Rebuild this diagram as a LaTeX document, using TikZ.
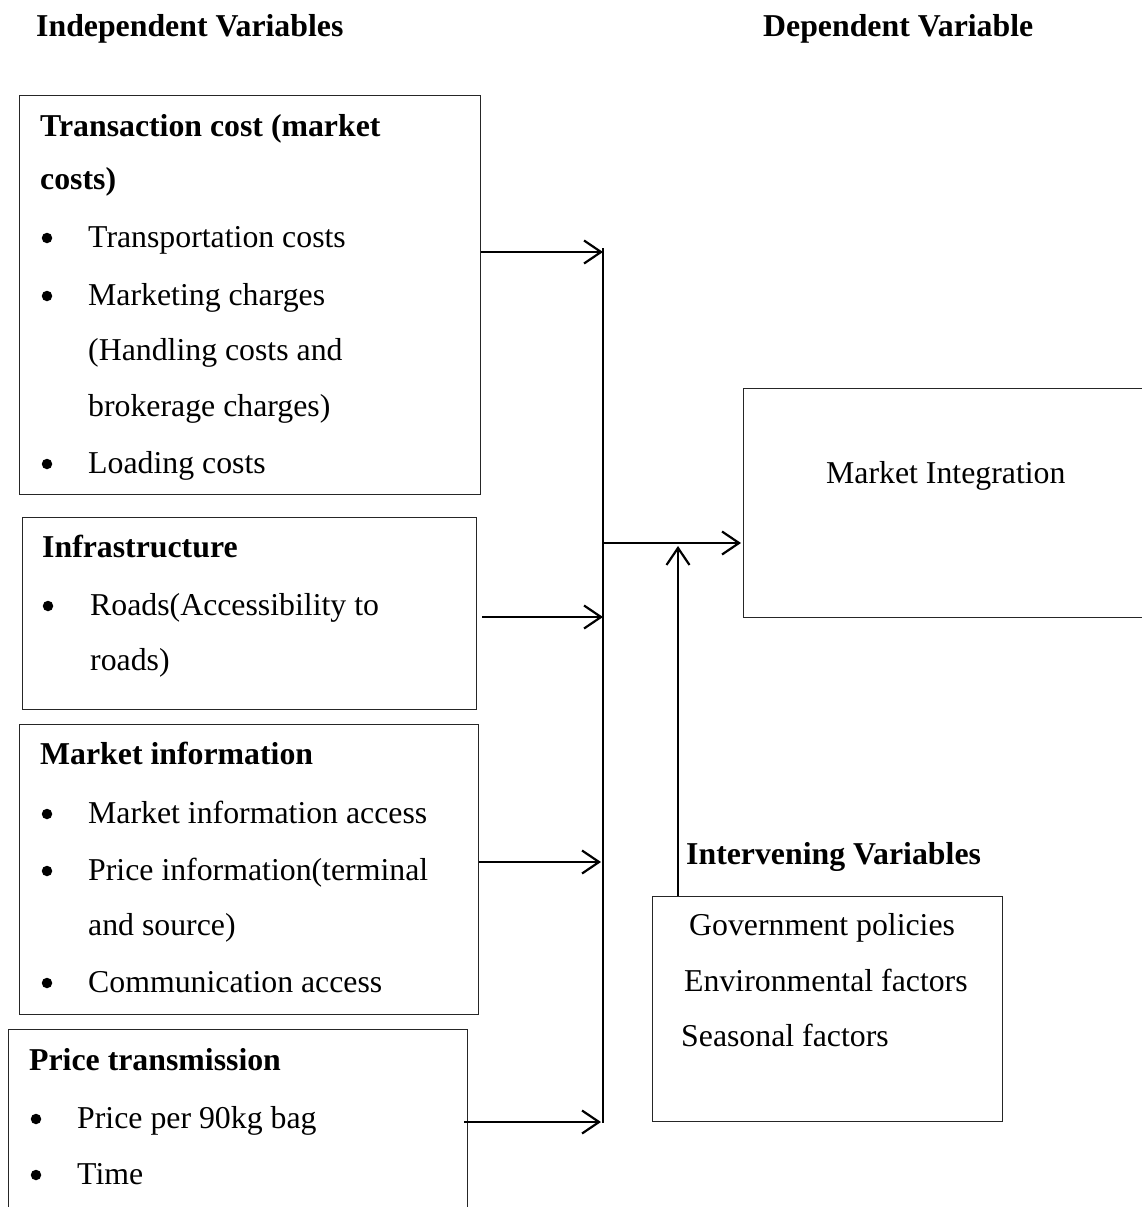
\documentclass[tikz,border=0pt]{standalone}
\usepackage{fontspec}
\setmainfont{Liberation Serif}
\usetikzlibrary{arrows.meta}
\begin{document}
\begin{tikzpicture}[x=1pt,y=-1pt,
  txt/.style={anchor=base west, inner sep=0pt, font=\fontsize{31.8}{38}\selectfont},
  hd/.style={anchor=base west, inner sep=0pt, font=\fontsize{31.8}{38}\selectfont\bfseries},
  dot/.style={circle, fill=black, inner sep=0pt, minimum size=10.5pt},
  box/.style={draw=black!85, line width=1.3pt, anchor=north west, inner sep=0pt},
  arr/.style={line width=2.2pt, -{Straight Barb[length=17pt,width=23pt,line width=2.2pt]}},
  bus/.style={line width=2pt}]
\useasboundingbox (0,0) rectangle (1142,1207);

% titles
\node[hd] (tInd) at (36,37) {Independent Variables};
\node[hd] (tDep) at (763,37) {Dependent Variable};

% boxes
\node[box, minimum width=461pt, minimum height=399pt] (b1) at (19,95) {};
\node[box, minimum width=454pt, minimum height=192pt] (b2) at (22,517) {};
\node[box, minimum width=459pt, minimum height=290pt] (b3) at (19,724) {};
\node[box, minimum width=459pt, minimum height=200pt] (b4) at (8,1029) {};
\node[box, minimum width=430pt, minimum height=229pt] (mi) at (743,388) {};
\node[box, minimum width=350pt, minimum height=225pt] (iv) at (652,896) {};

% box 1
\node[hd] (h1a) at (40,136) {Transaction cost (market};
\node[hd] (h1b) at (40,189) {costs)};
\node[dot] (p11) at (47,238) {};
\node[txt] (t11) at (88,247) {Transportation costs};
\node[dot] (p12) at (47,296) {};
\node[txt] (t12) at (88,305) {Marketing charges};
\node[txt] (t13) at (88,360) {(Handling costs and};
\node[txt] (t14) at (88,416) {brokerage charges)};
\node[dot] (p15) at (47,464) {};
\node[txt] (t15) at (88,473) {Loading costs};

% box 2
\node[hd] (h2) at (42,557) {Infrastructure};
\node[dot] (p21) at (48,606) {};
\node[txt] (t21) at (90,615) {Roads(Accessibility to};
\node[txt] (t22) at (90,670) {roads)};

% box 3
\node[hd] (h3) at (40,764) {Market information};
\node[dot] (p31) at (47,814) {};
\node[txt] (t31) at (88,823) {Market information access};
\node[dot] (p32) at (47,871) {};
\node[txt] (t32) at (88,880) {Price information(terminal};
\node[txt] (t33) at (88,935) {and source)};
\node[dot] (p34) at (47,983) {};
\node[txt] (t34) at (88,992) {Communication access};

% box 4
\node[hd] (h4) at (29,1070) {Price transmission};
\node[dot] (p41) at (36,1119) {};
\node[txt] (t41) at (77,1128) {Price per 90kg bag};
\node[dot] (p42) at (36,1175) {};
\node[txt] (t42) at (77,1184) {Time};

% dependent
\node[txt] (tmi) at (826,483) {Market Integration};

% intervening
\node[hd] (hiv) at (686,864) {Intervening Variables};
\node[txt] (ti1) at (689,935) {Government policies};
\node[txt] (ti2) at (684,991) {Environmental factors};
\node[txt] (ti3) at (681,1046) {Seasonal factors};

% connectors
\coordinate (bt) at (603,248);
\coordinate (bb) at (603,1123);
\coordinate (j1) at (603,252);
\coordinate (j2) at (603,617);
\coordinate (j3) at (601,862);
\coordinate (j4) at (601,1122);
\coordinate (jm) at (603,543);
\coordinate (vt) at (678,546);

\draw[bus] (bt) -- (bb);
\draw[arr] (b1.east |- j1) -- (j1);
\draw[arr] ([xshift=5pt]b2.east |- j2) -- (j2);
\draw[arr] (b3.east |- j3) -- (j3);
\draw[arr] ([xshift=-4pt]b4.east |- j4) -- (j4);
\draw[arr] (jm) -- ([xshift=-2pt]mi.west |- jm);
\draw[arr] ([xshift=26pt]iv.north west) -- (vt);
\end{tikzpicture}
\end{document}
